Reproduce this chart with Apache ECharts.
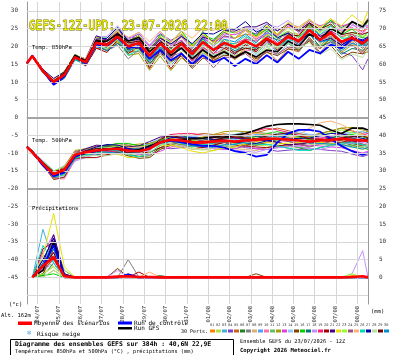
<!DOCTYPE html>
<html>
<head>
<meta charset="utf-8">
<script src="https://cdn.jsdelivr.net/npm/echarts@6/dist/echarts.min.js"></script>
<style>
html,body{margin:0;padding:0;background:#fff}
#main{width:395px;height:355px}
</style>
</head>
<body>
<div id="main"></div>
<script>
// heures depuis le 23/07 00Z (run 12Z -> debut a 12)
var hours = [12,18,30,42,54,66,78,90,102,114,126,138,150,162,174,186,198,210,222,234,246,258,270,282,294,306,318,330,342,354,366,378,390,396];
var dayLabels = ['24/07','25/07','26/07','27/07','28/07','29/07','30/07','31/07','01/08','02/08','03/08','04/08','05/08','06/08','07/08','08/08'];
var yGrid = [30,25,20,15,10,5,0,-5,-10,-15,-20,-25,-30,-35,-40,-45,-50];
var panelLines = [0,-20];
var precipZero = -45;

var pertColors = ['#ff8000','#b0e040','#40b0e0','#8040c0','#c86020','#208020','#808080','#d8b070','#50a0ff','#ff70b0','#60c060','#a0a000','#e040e0','#90c8ff','#804000','#00d000','#007070','#c090ff','#ff2070','#a00000','#400080','#e8e000','#90ff30','#a05080','#ffb070','#00d8c0','#0000a0','#b8e0a0','#700000','#0090d0'];

/* Temp. 850hPa */
var mean850 = [15.3,17.3,13.0,10.0,12.0,17.0,15.5,21.0,20.3,22.8,20.0,21.0,17.3,20.8,18.2,20.8,17.8,21.2,19.0,21.0,19.8,21.5,20.0,22.3,20.4,22.8,21.5,24.6,21.8,23.8,21.3,22.4,20.9,22.0];
var ctrl850 = [15.3,17.3,13.0,9.2,11.5,17.0,15.2,20.5,20.0,22.5,19.5,20.0,16.5,19.0,16.0,18.0,15.0,17.5,15.5,16.8,14.5,16.5,15.0,17.5,15.5,18.5,16.5,19.0,18.0,20.5,19.5,22.0,21.5,22.0];
var gfs850 = [15.3,17.3,13.2,10.0,12.5,17.5,16.0,21.5,21.5,23.5,21.5,22.5,18.5,21.0,17.5,19.5,16.5,19.0,17.0,18.5,16.8,18.5,17.0,19.0,18.5,21.5,20.0,23.5,22.0,25.0,23.5,27.0,25.5,27.5];
var pert850 = [
[15.3,17.5,13.3,10.5,12.4,17.3,16.0,21.8,21.3,24.0,21.5,22.0,19.3,22.3,20.2,22.6,20.3,23.2,21.2,22.8,22.3,23.5,22.8,24.8,23.4,25.4,24.3,26.6,24.3,25.8,24.3,24.9,24.4,25.0],
[15.3,17.1,12.6,9.4,11.5,16.7,14.9,20.0,19.1,21.3,18.0,19.5,14.8,18.8,15.2,18.3,14.8,18.7,15.5,18.0,16.6,18.7,17.0,19.8,17.6,20.8,19.0,21.6,19.3,21.8,19.8,20.4,19.9,20.5],
[15.3,17.4,12.8,10.3,12.2,16.8,15.8,20.5,20.8,23.1,19.0,21.5,15.8,21.3,16.2,20.8,16.8,22.2,17.5,21.5,17.8,22.5,19.0,23.8,19.9,23.8,21.5,25.1,20.8,23.3,19.3,20.9,18.4,21.0],
[15.3,17.3,13.2,9.7,12.1,17.4,15.7,22.2,21.8,24.6,22.0,23.5,20.3,23.6,21.7,23.3,19.8,22.7,20.0,23.0,22.3,24.5,23.5,25.3,24.4,26.3,24.0,26.1,21.8,22.8,18.3,17.4,13.4,16.5],
[15.3,17.2,13.2,9.8,11.7,16.5,14.7,19.5,19.3,20.8,18.5,18.5,16.3,19.3,17.7,19.8,16.3,19.2,16.0,18.5,16.3,18.5,16.0,18.8,15.9,19.3,18.5,22.6,19.3,22.3,19.3,21.4,18.4,21.0],
[15.3,17.5,13.1,10.4,12.6,17.5,15.9,21.3,19.8,22.8,21.0,21.5,18.8,22.8,19.2,23.3,19.3,24.2,21.0,24.0,22.3,25.0,23.0,26.3,23.4,26.3,24.5,26.6,24.8,27.3,25.3,26.9,24.9,27.0],
[15.3,17.0,12.5,9.8,12.0,16.8,15.5,20.5,18.8,20.3,16.5,19.0,14.3,19.8,16.2,20.8,16.8,21.7,18.5,22.0,19.8,22.0,19.0,21.8,18.4,21.3,18.5,22.1,19.8,22.3,20.3,21.9,19.4,21.5],
[15.3,17.4,13.0,9.9,12.2,17.0,15.6,21.6,21.5,23.6,21.5,23.0,19.8,22.3,18.7,20.3,16.3,20.2,17.0,19.5,19.8,22.5,22.0,25.3,22.9,26.3,25.5,27.6,25.3,27.8,24.8,26.9,25.9,28.0],
[15.3,17.3,12.7,9.4,11.2,16.5,14.7,20.7,20.8,23.8,19.5,20.0,15.3,18.3,14.7,17.8,15.3,19.7,17.0,20.0,19.8,21.0,18.5,21.3,18.4,22.3,22.0,25.6,23.3,24.8,21.3,23.4,21.4,22.0],
[15.3,17.6,13.5,10.2,11.8,17.3,16.1,22.0,20.8,22.3,18.5,20.5,17.8,22.3,20.7,22.8,18.8,21.2,18.0,19.0,16.8,19.0,18.5,21.3,20.4,23.8,23.5,26.1,22.8,25.8,24.8,25.4,23.4,25.5],
[15.3,17.2,13.0,10.2,12.4,17.0,15.2,21.2,20.3,23.3,20.5,21.0,16.8,21.3,18.7,21.8,17.8,20.7,18.0,21.0,19.3,20.5,18.0,20.8,19.4,20.8,19.0,21.6,20.3,22.8,21.3,23.4,22.4,22.5],
[15.3,17.5,13.3,10.8,13.0,17.6,15.8,20.7,19.3,21.3,17.5,18.0,13.3,17.3,13.2,16.8,14.3,18.2,16.5,19.0,16.8,19.5,19.0,22.3,19.4,23.3,21.5,23.6,19.8,22.3,18.3,20.4,17.9,19.5],
[15.3,17.3,13.1,10.0,11.9,17.2,16.0,21.5,21.8,23.8,22.5,22.5,20.3,22.8,20.2,21.8,18.3,22.2,20.5,23.5,23.3,24.5,22.0,23.8,22.9,25.8,25.0,27.1,25.8,26.8,25.8,26.4,23.9,26.0],
[15.3,17.1,12.9,9.6,11.8,16.4,15.1,19.8,19.8,21.8,20.0,20.5,17.8,20.8,17.7,19.3,15.8,18.2,15.5,18.0,17.8,20.0,17.5,20.3,17.4,20.8,20.5,23.1,21.3,23.8,20.8,22.9,19.9,21.5],
[15.3,17.4,13.2,10.0,12.3,16.6,15.3,20.2,18.8,20.8,19.0,19.5,15.3,17.8,15.7,17.3,13.8,16.7,16.0,17.5,17.3,18.5,16.5,18.3,17.4,19.3,19.0,21.6,17.8,20.3,16.8,18.4,17.9,18.5],
[15.3,17.5,13.0,10.3,12.5,17.8,16.0,22.5,22.3,25.3,21.5,23.0,18.3,23.3,21.2,24.3,20.3,23.2,22.0,24.5,23.8,25.0,23.0,24.8,22.4,24.3,22.5,26.1,24.3,27.3,23.3,24.9,22.4,24.0],
[15.3,17.2,12.7,9.2,11.0,16.2,15.0,20.2,19.8,22.8,19.0,19.5,14.8,19.3,17.2,20.3,18.3,22.2,19.0,20.5,18.8,20.0,19.5,22.8,21.9,23.8,21.5,23.6,19.8,21.3,17.8,19.4,18.9,19.5],
[15.3,17.6,13.4,10.6,12.2,17.5,16.3,22.8,22.8,25.8,22.0,24.0,19.8,24.3,20.2,23.3,19.3,23.2,20.0,22.5,22.3,25.0,24.5,26.3,25.4,27.3,25.0,27.6,24.3,25.8,24.3,25.9,25.4,26.0],
[15.3,17.3,12.8,10.1,12.3,17.2,15.5,20.8,20.8,22.3,20.0,22.0,17.8,20.3,16.7,19.8,15.8,19.7,18.0,21.0,20.8,22.0,21.5,23.3,20.9,22.3,20.5,24.6,22.8,24.3,22.8,23.4,20.9,23.0],
[15.3,17.1,13.0,9.7,11.5,16.7,14.5,19.5,18.3,21.8,18.0,20.0,13.8,18.8,13.7,17.8,14.8,19.2,16.5,19.5,17.8,20.5,18.5,21.8,18.9,22.8,21.0,25.6,21.8,24.3,20.8,22.9,19.9,22.0],
[15.3,17.5,13.5,11.0,12.8,17.5,16.5,23.0,21.8,24.0,21.0,23.0,18.8,21.8,18.7,20.8,18.3,22.7,21.5,24.5,24.3,25.5,25.5,26.8,24.4,26.3,24.5,26.6,22.8,23.8,20.3,22.4,20.4,22.5],
[15.3,17.4,13.2,10.4,12.6,17.4,16.1,22.0,21.5,24.3,21.0,23.0,18.8,22.8,20.7,23.8,19.8,23.7,21.0,24.5,22.3,24.5,22.5,25.8,23.4,26.8,25.0,27.6,25.3,27.8,25.8,28.9,26.4,30.0],
[15.3,17.2,13.1,10.2,12.0,16.8,15.7,21.0,19.8,21.8,18.5,20.5,16.3,20.8,18.7,20.8,18.8,21.7,20.5,22.0,20.3,21.0,20.0,23.3,22.4,25.3,23.0,25.6,23.8,26.3,22.3,23.9,22.9,23.0],
[15.3,17.3,12.8,9.5,11.8,17.3,16.0,21.5,20.3,23.3,21.0,20.5,15.8,18.8,17.2,18.3,14.3,17.2,14.0,17.0,16.8,18.0,15.5,18.8,17.9,19.8,19.5,22.1,18.3,21.3,19.8,20.4,17.9,20.0],
[15.3,17.5,13.3,10.3,12.5,17.6,16.5,22.5,21.3,24.8,22.5,24.0,21.3,24.3,21.2,24.3,22.3,25.2,24.5,26.0,23.8,25.0,22.5,24.3,21.4,24.3,22.0,24.6,20.8,23.3,19.3,20.9,18.4,20.0],
[15.3,17.1,12.5,9.6,11.4,16.2,15.0,20.5,19.3,22.3,17.5,19.0,15.8,20.3,18.2,21.3,17.3,20.2,19.5,21.0,20.8,23.0,20.5,22.3,19.9,21.8,21.5,25.1,23.3,25.8,22.3,22.4,19.9,21.5],
[15.3,17.4,12.9,9.5,11.8,17.2,15.8,22.0,22.3,25.3,21.5,22.0,19.3,22.3,20.7,22.8,20.8,23.7,23.5,25.0,24.8,27.0,24.0,25.3,22.4,23.8,21.5,23.6,21.3,22.3,20.3,22.4,21.9,22.5],
[15.3,17.3,13.2,10.6,12.3,16.9,15.2,20.4,19.3,22.3,19.5,19.0,14.8,17.8,15.7,18.8,16.8,20.7,17.5,19.0,17.3,20.0,19.0,20.3,19.4,21.3,19.5,21.1,17.8,19.3,16.3,17.9,16.9,19.0],
[15.3,17.2,13.0,10.4,12.2,17.0,15.7,21.8,20.8,22.8,21.0,21.5,18.3,21.3,19.7,21.3,18.8,21.2,19.0,20.0,18.3,19.5,19.0,21.8,20.4,23.3,23.0,26.6,24.8,26.3,23.3,23.9,23.4,24.0],
[15.3,17.5,13.0,9.8,11.6,16.7,14.9,20.0,18.8,20.8,18.5,20.5,16.8,19.8,18.2,20.3,18.3,22.2,19.0,22.0,21.3,23.5,21.0,24.3,21.4,22.8,20.5,23.6,21.3,21.8,18.8,20.9,19.9,20.5]
];

/* Temp. 500hPa */
var mean500 = [-8.3,-9.8,-13.0,-16.0,-14.8,-10.5,-9.8,-9.3,-9.0,-8.8,-9.3,-9.5,-8.8,-7.0,-6.3,-6.5,-7.0,-7.0,-6.8,-6.5,-6.8,-6.5,-6.3,-6.0,-6.0,-6.2,-6.5,-6.8,-6.5,-6.3,-6.0,-6.3,-6.5,-6.5];
var ctrl500 = [-8.3,-9.8,-13.5,-16.5,-15.5,-11.0,-10.0,-9.5,-9.0,-8.8,-9.0,-9.5,-8.5,-7.0,-6.5,-7.0,-7.5,-8.0,-8.0,-8.5,-9.5,-10.0,-11.0,-10.5,-7.0,-4.5,-3.5,-3.5,-4.0,-6.0,-8.0,-9.5,-10.5,-10.0];
var gfs500 = [-8.3,-9.5,-13.0,-16.0,-15.0,-11.0,-10.0,-9.5,-9.0,-8.5,-9.0,-9.0,-8.0,-7.0,-6.5,-6.2,-6.0,-5.8,-5.5,-5.5,-5.0,-4.5,-3.5,-2.5,-2.0,-1.8,-1.8,-2.0,-2.2,-3.5,-4.5,-3.0,-3.0,-3.5];
var pert500 = [
[-8.3,-9.6,-12.5,-15.7,-15.3,-11.0,-9.8,-8.8,-8.2,-7.8,-8.8,-9.5,-8.3,-6.0,-4.8,-5.5,-6.5,-6.0,-5.3,-4.5,-5.3,-5.5,-5.8,-6.0,-6.5,-6.2,-6.0,-5.8,-5.0,-5.3,-5.5,-5.3,-5.0,-5.5],
[-8.3,-10.0,-13.3,-16.5,-16.3,-11.5,-11.0,-10.3,-9.5,-9.8,-10.8,-10.5,-10.3,-9.0,-7.8,-7.5,-8.5,-9.0,-9.3,-8.5,-8.3,-7.5,-7.8,-8.0,-8.5,-8.2,-8.0,-7.8,-7.0,-7.3,-7.5,-8.3,-8.0,-7.5],
[-8.3,-9.5,-12.2,-15.0,-14.3,-10.2,-9.3,-9.1,-9.0,-9.1,-9.0,-8.7,-7.8,-6.5,-6.3,-7.0,-7.0,-6.5,-5.8,-5.0,-4.8,-4.0,-4.3,-4.5,-5.0,-4.7,-4.5,-5.3,-5.5,-5.8,-6.0,-5.8,-6.5,-7.0],
[-8.3,-9.9,-13.0,-16.8,-16.8,-12.0,-10.3,-9.3,-8.5,-8.3,-9.3,-10.0,-9.8,-8.5,-8.8,-8.5,-8.0,-7.5,-6.8,-7.0,-7.8,-8.5,-8.8,-9.0,-9.5,-9.2,-9.0,-8.8,-9.0,-9.3,-9.5,-10.3,-11.0,-10.5],
[-8.3,-9.7,-12.7,-15.5,-14.0,-10.0,-9.0,-8.1,-8.0,-8.3,-8.3,-8.0,-7.8,-6.5,-5.3,-5.0,-5.0,-4.5,-4.8,-5.0,-5.8,-5.0,-4.3,-3.5,-3.0,-3.7,-4.5,-5.3,-4.5,-3.8,-3.0,-3.8,-4.5,-4.0],
[-8.3,-9.8,-13.5,-17.0,-15.8,-11.0,-9.8,-8.8,-9.0,-9.3,-10.3,-11.0,-10.8,-8.5,-7.3,-7.0,-8.0,-8.5,-7.8,-7.0,-6.8,-6.0,-6.3,-6.5,-7.0,-7.7,-8.5,-9.3,-8.5,-7.8,-7.0,-7.8,-8.5,-9.0],
[-8.3,-9.6,-12.8,-16.0,-14.3,-9.5,-9.0,-8.8,-8.0,-7.3,-7.8,-8.5,-8.3,-7.0,-6.8,-6.5,-6.5,-7.0,-7.3,-7.5,-8.3,-7.5,-6.8,-6.0,-5.5,-5.2,-5.0,-4.8,-5.0,-5.3,-5.5,-6.3,-6.0,-5.5],
[-8.3,-10.1,-13.8,-16.5,-14.8,-10.8,-10.3,-10.3,-10.5,-9.8,-9.8,-9.5,-8.3,-7.5,-7.3,-8.0,-9.0,-8.5,-7.8,-8.0,-8.8,-9.0,-9.3,-8.5,-8.0,-7.7,-7.5,-7.3,-7.5,-7.8,-7.0,-6.8,-6.5,-6.0],
[-8.3,-9.7,-12.4,-15.2,-13.6,-10.0,-9.5,-9.3,-9.3,-8.8,-8.8,-8.5,-7.3,-6.0,-5.8,-5.5,-5.5,-6.0,-6.3,-6.5,-6.3,-5.5,-4.8,-5.0,-5.5,-6.2,-7.0,-6.8,-6.0,-5.3,-4.5,-4.3,-4.0,-4.5],
[-8.3,-9.9,-13.2,-17.2,-17.3,-12.0,-10.8,-9.8,-10.0,-10.3,-10.3,-10.0,-8.8,-7.5,-6.3,-6.0,-7.0,-7.5,-6.8,-6.0,-5.8,-6.0,-6.3,-6.5,-7.0,-6.7,-6.5,-6.3,-5.5,-5.8,-6.0,-6.8,-7.5,-8.0],
[-8.3,-9.6,-12.6,-15.8,-15.1,-10.3,-9.3,-8.5,-7.8,-7.8,-8.8,-9.0,-8.8,-7.5,-7.3,-8.0,-8.0,-7.5,-7.8,-8.0,-8.8,-8.0,-7.3,-7.5,-8.0,-8.7,-8.5,-8.3,-7.5,-7.8,-8.0,-7.8,-7.5,-8.0],
[-8.3,-9.8,-12.9,-15.5,-13.8,-9.3,-8.8,-8.8,-8.5,-7.8,-7.8,-7.5,-7.3,-6.5,-6.3,-6.0,-6.0,-5.5,-4.8,-4.0,-3.8,-4.0,-4.3,-4.5,-5.0,-5.7,-5.5,-5.3,-4.5,-3.8,-3.0,-2.8,-3.5,-4.0],
[-8.3,-10.0,-13.6,-16.3,-15.6,-11.3,-10.3,-9.6,-9.0,-8.3,-9.3,-10.5,-10.3,-9.5,-8.3,-8.0,-8.0,-8.5,-8.8,-9.0,-8.8,-8.0,-8.8,-9.0,-8.5,-8.2,-8.0,-7.8,-8.0,-8.3,-8.5,-9.3,-10.0,-9.5],
[-8.3,-9.5,-12.3,-15.4,-14.8,-10.5,-9.5,-8.5,-8.5,-8.8,-8.8,-9.5,-9.3,-7.0,-5.8,-5.5,-5.5,-5.0,-5.3,-5.5,-6.3,-6.5,-5.8,-5.0,-4.5,-4.2,-4.0,-4.8,-5.0,-5.3,-5.5,-6.3,-7.0,-6.5],
[-8.3,-9.9,-13.4,-17.5,-16.8,-11.3,-10.1,-9.3,-9.5,-9.8,-10.8,-11.5,-11.3,-9.0,-7.8,-7.5,-7.5,-7.0,-6.3,-6.5,-7.3,-7.5,-7.8,-7.0,-6.5,-6.2,-6.0,-5.8,-6.0,-6.3,-6.5,-7.3,-8.0,-8.5],
[-8.3,-9.6,-12.7,-16.0,-15.8,-11.7,-10.3,-9.0,-8.0,-7.3,-7.3,-8.0,-7.8,-6.5,-5.3,-5.0,-6.0,-6.5,-6.8,-7.0,-6.8,-6.0,-5.3,-4.5,-4.0,-4.7,-5.5,-6.3,-6.5,-5.8,-5.0,-4.8,-5.5,-6.0],
[-8.3,-10.0,-13.1,-15.6,-14.3,-10.5,-10.6,-10.5,-9.8,-9.1,-9.3,-9.0,-8.8,-7.5,-7.3,-7.0,-7.0,-6.5,-5.8,-6.0,-5.8,-5.0,-5.3,-5.5,-6.0,-6.7,-7.5,-7.3,-6.5,-5.8,-5.0,-5.8,-6.5,-6.0],
[-8.3,-9.7,-13.3,-16.6,-16.0,-12.3,-11.3,-10.3,-9.5,-8.8,-9.8,-10.5,-9.3,-7.0,-5.8,-6.5,-7.5,-8.0,-8.3,-8.5,-9.3,-9.5,-9.8,-9.0,-8.5,-8.2,-8.0,-8.8,-9.0,-8.3,-7.5,-7.3,-7.0,-7.5],
[-8.3,-9.8,-12.7,-15.4,-14.0,-9.7,-9.3,-9.3,-9.5,-9.6,-9.8,-9.5,-8.3,-6.0,-4.8,-4.5,-4.5,-5.0,-5.3,-5.5,-5.3,-4.5,-3.8,-3.0,-3.5,-4.2,-5.0,-5.8,-6.0,-5.3,-4.5,-5.3,-5.0,-4.5],
[-8.3,-10.1,-13.5,-16.2,-15.3,-11.5,-11.3,-11.3,-10.5,-9.8,-9.8,-10.0,-9.8,-8.5,-7.3,-7.0,-8.0,-8.5,-7.8,-7.0,-7.8,-8.0,-8.3,-8.5,-8.0,-7.7,-7.5,-7.3,-6.5,-6.8,-7.0,-6.8,-6.5,-7.0],
[-8.3,-9.7,-13.0,-15.7,-14.5,-10.0,-8.8,-7.8,-8.0,-8.3,-8.3,-8.0,-6.8,-5.5,-5.3,-6.0,-7.0,-6.5,-5.8,-5.0,-5.8,-6.0,-6.3,-6.5,-7.0,-7.7,-7.5,-7.3,-6.5,-5.8,-6.0,-6.8,-6.5,-6.0],
[-8.3,-9.9,-12.8,-16.4,-15.8,-10.8,-9.8,-9.8,-10.0,-10.3,-11.3,-11.0,-9.8,-8.0,-7.8,-8.5,-9.5,-10.0,-9.3,-8.5,-8.3,-7.5,-6.8,-7.0,-7.5,-7.2,-7.0,-6.8,-7.0,-7.3,-7.5,-8.3,-9.0,-8.5],
[-8.3,-9.6,-12.5,-15.1,-13.8,-10.3,-10.0,-9.1,-8.5,-8.0,-8.8,-9.5,-8.3,-6.0,-5.8,-6.5,-6.5,-6.0,-6.3,-6.5,-7.3,-6.5,-5.8,-6.0,-6.5,-6.2,-6.0,-5.8,-5.0,-4.3,-3.5,-4.3,-5.0,-5.5],
[-8.3,-10.0,-13.7,-16.9,-15.3,-10.7,-9.6,-9.5,-9.5,-9.0,-9.1,-9.0,-8.8,-7.5,-6.3,-6.0,-6.0,-6.5,-6.8,-7.0,-7.8,-7.0,-6.3,-5.5,-6.0,-6.7,-7.5,-8.3,-7.5,-6.8,-6.0,-6.8,-7.5,-8.0],
[-8.3,-9.7,-12.9,-15.8,-14.2,-9.8,-9.6,-9.6,-9.2,-8.5,-8.5,-8.3,-8.0,-6.7,-6.5,-7.2,-7.2,-6.7,-6.0,-5.2,-5.0,-4.2,-4.5,-4.7,-5.2,-5.9,-5.0,-3.0,-1.5,-1.0,-2.0,-3.5,-5.0,-5.5],
[-8.3,-9.9,-13.3,-16.7,-16.1,-11.5,-10.6,-9.9,-9.2,-9.4,-10.5,-11.1,-10.0,-7.8,-6.7,-7.3,-8.2,-7.8,-7.2,-6.5,-7.2,-7.3,-7.5,-7.6,-8.0,-8.6,-9.3,-9.2,-8.5,-7.9,-7.2,-7.1,-7.7,-8.1],
[-8.3,-9.6,-12.8,-16.2,-15.4,-10.7,-9.4,-8.3,-7.6,-7.8,-8.7,-9.3,-9.0,-6.8,-5.7,-5.5,-5.6,-6.0,-6.2,-6.3,-7.0,-7.1,-7.3,-6.6,-6.2,-6.0,-5.9,-5.8,-5.1,-4.5,-4.6,-5.3,-5.9,-6.3],
[-8.3,-9.8,-13.2,-15.9,-14.6,-10.9,-10.8,-10.7,-10.8,-10.2,-10.3,-10.1,-9.0,-7.6,-7.3,-7.9,-8.8,-9.2,-8.6,-7.9,-7.8,-7.1,-6.5,-5.8,-5.4,-6.0,-6.7,-7.4,-7.5,-7.7,-7.8,-8.5,-8.3,-7.9],
[-8.3,-9.7,-12.6,-15.3,-14.4,-10.5,-9.5,-8.7,-8.7,-9.0,-9.9,-9.7,-8.5,-6.2,-5.0,-5.7,-6.7,-7.2,-6.5,-5.7,-5.5,-5.7,-6.0,-5.2,-4.7,-4.4,-5.2,-6.0,-6.2,-6.5,-5.7,-5.5,-5.2,-5.7],
[-8.3,-10.0,-13.4,-16.3,-14.6,-10.1,-9.8,-9.7,-9.8,-10.0,-10.1,-9.9,-8.8,-6.6,-6.3,-6.9,-7.8,-8.2,-8.4,-7.7,-7.6,-6.9,-6.3,-5.6,-5.2,-5.8,-6.5,-7.2,-7.3,-7.5,-7.6,-8.3,-8.9,-8.5]
];

/* Précipitations (mm) */
var meanP = [null,0,3.2,5.7,0.3,0,0,0,0,0.2,0.3,0.1,0.1,0,0,0,0,0,0,0,0,0,0,0,0,0,0,0,0,0,0,0.1,0.3,0];
var ctrlP = [null,0,3,9,0.5,0,0,0,0,0,0.8,0,0,0,0,0,0,0,0,0,0,0,0,0,0,0,0,0,0,0,0,0,0,0];
var gfsP = [null,0,2,10,0,0,0,0,0,0,0,0,0,0,0,0,0,0,0,0,0,0,0,0,0,0,0,0,0,0,0,0,0,0];
var pertP = [
[null,0,2,8,0.5,0,0,0,0,0,0,0,0,0,0,0,0,0,0,0,0,0,0,0,0,0,0,0,0,0,0,0.5,0,0],
[null,0,5,3,0,0,0,0,0,0,0,0,0,0,0,0,0,0,0,0,0,0,0,0,0,0,0,0,0,0,0,0,0,0],
[null,0,13.5,4,0,0,0,0,0,0,0,0,0,0,0,0,0,0,0,0,0,0,0,0,0,0,0,0,0,0,0,0,0,0],
[null,0,3,11,1,0,0,0,0,0,0,0,0,0,0,0,0,0,0,0,0,0,0,0,0,0,0,0,0,0,0,0,0,0],
[null,0,1,6,0.5,0,0,0,0,0,0,0,0,0,0,0,0,0,0,0,0,0,0,0,0,0,0,0,0,0,0,0,0,0],
[null,0,0.5,4,0,0,0,0,0,0,0,0,0,0.5,0,0,0,0,0,0,0,0,0,0,0,0,0,0,0,0,0,0,0,0],
[null,0,4,9,0,0,0,0,0,0,5,0,0,0,0,0,0,0,0,0,0,0,0,0,0,0,0,0,0,0,0,0,0,0],
[null,0,2,5,1,0,0,0,0,0,0,0,0,0,0,0,0,0,0,0,0,0,0,0,0,0,0,0,0,0,0,0,0,0],
[null,0,6,7,0,0,0,0,0,0,0,0,0,0,0,0,0,0,0,0,0,0,0,0,0,0,0,0,0,0,0,0,0,0],
[null,0,1,3,0,0,0,0,0,0,0,0,0,0,0,0,0,0,0,0,0,0,0,0,0,0,0,0,0,0,0,0,0,0],
[null,0,3,10,2,0,0,0,0,0,0,0,0,0,0,0,0,0,0,0,0,0,0,0,0,0,0,0,0,0,0,0,0,0],
[null,0,0,2,0,0,0,0,0,0,0,0,0,0,0,0,0,0,0,0,0,0,0,0,0,0,0,0,0,0,0,0,0,0],
[null,0,7,12,0.5,0,0,0,0,0,0,0,0,0,0,0,0,0,0,0,0,0,0,0,0,0,0,0,0,0,0,0,0,0],
[null,0,2,4,0,0,0,0,0,0,0,0,0,0,0,0,0,0,0,0,0,0,0,0,0,0,0,0,0,0,0,0,0,0],
[null,0,1,8,1,0,0,0,0,2.5,0,0,0,0,0,0,0,0,0,0,0,0,1,0,0,0,0,0,0,0,0,0,0,0],
[null,0,0.5,1,0,0,0,0,0,0,0,0,0,0,0,0,0,0,0,0,0,0,0,0,0,0,0,0,0,0,0,0,0,0],
[null,0,5,6,0,0,0,0,0,0,0,0,0,0,0,0,0,0,0,0,0,0,0,0,0,0,0,0,0,0,0,0,0,0],
[null,0,3,9,0,0,0,0,0,2,0,0,0,0,0,0,0,0,0,0,0,0,0,0,0,0,0,0,0,0,0,1,7.5,0],
[null,0,2,7,0.5,0,0,0,0,0,0,0,0,0,0,0,0,0,0,0,0,0,0,0,0,0,0,0,0,0,0,0,0,0],
[null,0,8,10,0,0,0,0,0,0,0,1.5,0,0,0,0,0,0,0,0,0,0,0,0,0,0,0,0,0,0,0,0,0,0],
[null,0,4,12,1,0,0,0,0,0,0,0,0,0,0,0,0,0,0,0,0,0,0,0,0,0,0,0,0,0,0,0,0,0],
[null,0,6,18,3,0,0,0,0,0,0,0,0,0,0,0,0,0,0,0,0,0,0,0,0,0,0,0,0,0,0,0,0,0],
[null,0,1,3,0,0,0,0,0,0,0,0,0,0,0,0,0,0,0,0,0,0,0,0,0,0,0,0,0,0,0,1,0,0],
[null,0,2,5,0,0,0,0,0,0,0,0,0,0,0,0,0,0,0,0,0,0,0,0,0,0,0,0,0,0,0,0,0,0],
[null,0,3,6,0.5,0,0,0,0,0,0,0,1.5,0,0,0,0,0,0,0,0,0,0,0,0,0,0,0,0,0,0,0,0,0],
[null,0,9,4,0,0,0,0,0,0,0,0,0,0,0,0,0,0,0,0,0,0,0,0,0,0,0,0,0,0,0,0,0,0],
[null,0,5,11,0,0,0,0,0,0,1,0,0,0,0,0,0,0,0,0,0,0,0,0,0,0,0,0,0,0,0,0,0,0],
[null,0,0,2,0,0,0,0,0,0,0,0,0,0,0,0,0,0,0,0,0,0,0,0,0,0,0,0,0,0,0,0,0,0],
[null,0,3,7,0,0,0,0,0,0,0,0,0,0,0,0,0,0,0,0,0,0,0,0,0,0,0,0,0,0,0,0,0,0],
[null,0,4,8,0,0,0,0,0,0,0,0,0,0,0,0,0,0,0,0,0,0,0,0,0,0,0,0,0,0,0,0,0,0]
];

var myChart = echarts.init(document.getElementById('main'));
var series = [];

function toPoints(vals, base) {
	return hours.map(function (h, i) {
		return [h, vals[i] == null ? null : vals[i] + base];
	});
}
function addLine(vals, base, color, width, z) {
	series.push({
		type: 'line',
		data: toPoints(vals, base),
		symbol: 'none',
		showSymbol: false,
		silent: true,
		z: z,
		lineStyle: { color: color, width: width },
		itemStyle: { color: color }
	});
}

// lignes de la grille et séparations des panneaux
series.push({
	type: 'line', data: [], silent: true, z: 1,
	markLine: {
		silent: true, symbol: 'none', label: { show: false }, animation: false,
		lineStyle: { color: '#d6d6d6', width: 1, type: 'solid' },
		data: yGrid.map(function (v) { return { yAxis: v }; })
			.concat(dayLabels.map(function (d, i) { return { xAxis: 24 * (i + 1) }; }))
	}
});
series.push({
	type: 'line', data: [], silent: true, z: 1,
	markLine: {
		silent: true, symbol: 'none', label: { show: false }, animation: false,
		lineStyle: { color: '#a4a4a4', width: 2, type: 'solid' },
		data: panelLines.map(function (v) { return { yAxis: v }; })
	}
});

[[pert850, gfs850, ctrl850, mean850, 0],
 [pert500, gfs500, ctrl500, mean500, 0],
 [pertP, gfsP, ctrlP, meanP, precipZero]].forEach(function (p) {
	p[0].forEach(function (vals, i) { addLine(vals, p[4], pertColors[i], 1, 2); });
	addLine(p[1], p[4], '#000000', 1.6, 3);
	addLine(p[2], p[4], '#0000ff', 1.8, 4);
	addLine(p[3], p[4], '#ff0000', 2.6, 5);
});

var mono = '"DejaVu Sans Mono", monospace';
function txt(x, y, s, size, color, bold) {
	return { type: 'text', x: x, y: y, z: 100, style: {
		text: s, fill: color || '#000', verticalAlign: 'middle',
		font: (bold ? 'bold ' : '') + size + 'px ' + mono } };
}

var graphics = [
	{ type: 'text', x: 29, y: 19, scaleY: 1.3, z: 100, style: {
		text: 'GEFS-12Z-UPD: 23-07-2026 22:00', verticalAlign: 'top',
		font: '11px ' + mono, fill: '#f2f200', stroke: '#707020', lineWidth: 0.8 } },
	txt(32, 48, 'Temp. 850hPa', 5.5),
	txt(32, 141, 'Temp. 500hPa', 5.5),
	txt(32, 209, 'Précipitations', 5.5),
	txt(9, 305, '(°c)', 5.5),
	txt(1, 315.5, 'Alt. 162m', 5.5),
	txt(371, 312, '(mm)', 5.5),
	{ type: 'rect', z: 100, shape: { x: 18, y: 321.5, width: 14, height: 3.5 }, style: { fill: '#ff0000' } },
	txt(34, 323.5, 'Moyenne des scénarios', 6),
	{ type: 'rect', z: 100, shape: { x: 118, y: 321.5, width: 14, height: 3 }, style: { fill: '#0000ff' } },
	txt(134, 323, 'Run de contrôle', 6),
	{ type: 'rect', z: 100, shape: { x: 118, y: 327, width: 14, height: 2.5 }, style: { fill: '#000000' } },
	txt(134, 328.5, 'Run GFS', 6),
	txt(27, 333.5, '❄', 7, '#6aa8e8'),
	txt(37, 334, 'Risque neige', 6),
	txt(181, 331.5, '30 Perts.', 5),
	{ type: 'rect', z: 99, shape: { x: 10.5, y: 339.5, width: 223, height: 20 }, style: { fill: '#fff', stroke: '#000', lineWidth: 1 } },
	txt(15, 344, 'Diagramme des ensembles GEFS sur 384h : 40,6N 22,9E', 6.4, '#000', true),
	txt(15, 351.5, 'Températures 850hPa et 500hPa (°C) , précipitations (mm)', 5.3),
	txt(240, 341.5, 'Ensemble GEFS du 23/07/2026 - 12Z', 5.3),
	txt(240, 351, 'Copyright 2026 Meteociel.fr', 5.6, '#000', true)
];
pertColors.forEach(function (c, i) {
	var n = (i < 9 ? '0' : '') + (i + 1);
	graphics.push(txt(210 + i * 6, 325, n, 3.6, '#333'));
	graphics.push({ type: 'rect', z: 100, shape: { x: 210 + i * 6, y: 329.5, width: 5, height: 3 }, style: { fill: c } });
});

option = {
	animation: false,
	backgroundColor: '#fff',
	grid: { left: 27, right: 27, top: 2, bottom: 51, containLabel: false },
	xAxis: {
		type: 'value', min: 12, max: 396, interval: 12,
		axisLine: { show: true, lineStyle: { color: '#999', width: 1 } },
		axisTick: { show: false },
		splitLine: { show: false },
		axisLabel: {
			rotate: 90, margin: 2, fontSize: 5.5, fontFamily: mono, color: '#222',
			formatter: function (v) {
				var d = v / 24;
				return (v % 24 === 0 && d >= 1 && d <= dayLabels.length) ? dayLabels[d - 1] : '';
			}
		}
	},
	yAxis: [{
		type: 'value', position: 'left', min: -52.5, max: 32.5, interval: 2.5,
		axisLine: { show: true, lineStyle: { color: '#999', width: 1 } },
		axisTick: { show: false },
		splitLine: { show: false },
		axisLabel: {
			margin: 9, fontSize: 6, fontFamily: mono, color: '#333',
			formatter: function (v) { return (v % 5 === 0 && v >= -45) ? String(v) : ''; }
		}
	}, {
		type: 'value', position: 'right', min: -7.5, max: 77.5, interval: 2.5,
		axisLine: { show: true, lineStyle: { color: '#999', width: 1 } },
		axisTick: { show: false },
		splitLine: { show: false },
		axisLabel: {
			margin: 11, fontSize: 6, fontFamily: mono, color: '#333',
			formatter: function (v) { return (v % 5 === 0 && v >= 0) ? String(v) : ''; }
		}
	}],
	graphic: graphics,
	series: series
};
myChart.setOption(option);
</script>
</body>
</html>
